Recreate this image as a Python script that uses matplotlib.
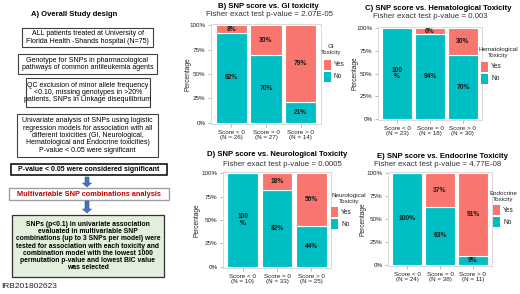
import matplotlib
matplotlib.use("Agg")
import matplotlib.pyplot as plt
from matplotlib.patches import Rectangle, FancyArrow

plt.rcParams['font.family'] = ['Liberation Sans', 'DejaVu Sans']

W, H = 520, 294

# ---------------- data ----------------
categories = ["Score < 0", "Score = 0", "Score > 0"]
gi_n = [26, 27, 14]
gi_no = [92, 70, 21]
gi_yes = [8, 30, 79]
hem_n = [23, 18, 30]
hem_no = [100, 94, 70]
hem_yes = [0, 6, 30]
neu_n = [10, 33, 25]
neu_no = [100, 82, 44]
neu_yes = [0, 18, 56]
endo_n = [24, 38, 11]
endo_no = [100, 63, 9]
endo_yes = [0, 37, 91]
yticks = [0, 25, 50, 75, 100]

TEAL = '#00BFC4'
SALMON = '#F8766D'

fig = plt.figure(figsize=(W / 100, H / 100), dpi=100)


def fx(px):
    return px / W


def fy(py):
    return 1 - py / H


def box(x0, y0, x1, y1, text, fs=5.0, weight='normal', color='black',
        fc='white', ec='#404040', lw=0.8):
    fig.patches.append(Rectangle((fx(x0), fy(y1)), (x1 - x0) / W, (y1 - y0) / H,
                                 transform=fig.transFigure, fc=fc, ec=ec, lw=lw))
    fig.text(fx((x0 + x1) / 2), fy((y0 + y1) / 2), text, ha='center', va='center',
             fontsize=fs, fontweight=weight, color=color, linespacing=1.05)


def arrow(x, y0, y1):
    fig.patches.append(FancyArrow(fx(x), fy(y0), 0, -(y1 - y0) / H,
                                  width=4 / W, head_width=9 / W, head_length=4 / H,
                                  length_includes_head=True, transform=fig.transFigure,
                                  fc='#4472C4', ec='#2F5597', lw=0.4))


# ---------------- panel A ----------------
fig.text(fx(31), fy(15), "A) Overall Study design", fontsize=5.5, fontweight='bold',
         ha='left', va='center')
box(22, 28, 153, 47, "ALL patients treated at University of\nFlorida Health -Shands hospital (N=75)")
box(18, 54, 157, 74, "Genotype for SNPs in pharmacological\npathways of common antileukemia agents")
box(26, 78, 150, 107, "QC exclusion of minor allele frequency\n<0.10, missing genotypes in >20%\npatients, SNPs in Linkage disequilibrium")
box(17, 114, 158, 157, "Univariate analysis of SNPs using logistic\nregression models for association with all\n"
    "different toxicities (GI, Neurological,\nHematological and Endocrine toxicities)\nP-value < 0.05 were significant")
box(11, 164, 167, 175, "P-value < 0.05 were considered significant", fs=5.0, weight='bold',
    ec='black', lw=1.1)
arrow(87, 177, 187)
box(9, 188, 169, 200, "Multivariable SNP combinations analysis", fs=5.3, weight='bold',
    color='#C00000', ec='#A0A0A0', lw=1.0)
arrow(87, 201, 213)
box(12, 215, 164, 277, "SNPs (p<0.1) in univariate association\nevaluated in multivariable SNP\n"
    "combinations (up to 3 SNPs per model) were\ntested for association with each toxicity and\n"
    "combination model with the lowest 1000\npermutation p-value and lowest BIC value\nwas selected",
    fs=4.9, weight='bold', fc='#E2EFDA', ec='#303030', lw=0.9)
fig.text(fx(1), fy(286), "IRB201802623", fontsize=6.0, ha='left', va='center', color='#222222')


# ---------------- bar panels ----------------
def panel(ax_px, no, yes, ns, labels_no, labels_yes, title, subtitle, tcx, ty, scx,
          ylab_x, leg_title, leg_cx, leg_ty, key_x, key_y):
    x0, y0, x1, y1 = ax_px
    ax = fig.add_axes([fx(x0), fy(y1), (x1 - x0) / W, (y1 - y0) / H])
    pos = list(range(1, len(categories) + 1))
    ax.bar(pos, no, width=0.9, color=TEAL, edgecolor='white', lw=0.8)
    ax.bar(pos, yes, bottom=no, width=0.9, color=SALMON, edgecolor='white', lw=0.8)
    for p, n, y, ln, ly in zip(pos, no, yes, labels_no, labels_yes):
        if n > 0:
            ax.text(p, n / 2, ln, ha='center', va='center', fontsize=4.8,
                    fontweight='bold', color='#1a1a1a', linespacing=1.0)
        if y > 0:
            ax.text(p, n + y / 2, ly, ha='center', va='center', fontsize=4.8,
                    fontweight='bold', color='#1a1a1a')
    ax.set_xlim(0.42, 3.58)
    ax.set_ylim(-1.5, 101.5)
    ax.set_yticks(yticks)
    ax.set_yticklabels([f"{v}%" for v in yticks])
    ax.set_xticks(pos)
    ax.set_xticklabels([f"{c}\n(N = {n})" for c, n in zip(categories, ns)],
                       linespacing=1.2)
    ax.tick_params(labelsize=4.5, length=2, width=0.5, color='#999999', pad=2,
                   labelcolor='#222222')
    for s in ax.spines.values():
        s.set_color('#d4d4d4')
        s.set_linewidth(0.6)
    fig.text(fx(ylab_x), fy((y0 + y1) / 2), "Percentage", rotation=90, ha='center',
             va='center', fontsize=4.8, color='#222222')
    fig.text(fx(tcx), fy(ty), title, ha='center', va='center', fontsize=5.6,
             fontweight='bold')
    fig.text(fx(scx), fy(ty + 9), subtitle, ha='center', va='center', fontsize=5.7,
             color='#333333')
    # legend
    fig.text(fx(leg_cx), fy(leg_ty), leg_title, ha='center', va='top', fontsize=4.5,
             linespacing=1.25, color='#222222')
    for i, (lab, col) in enumerate([("Yes", SALMON), ("No", TEAL)]):
        ky = key_y + i * 12
        fig.patches.append(Rectangle((fx(key_x), fy(ky + 10)), 7 / W, 10 / H,
                                     transform=fig.transFigure, fc=col, ec='none'))
        fig.text(fx(key_x + 10), fy(ky + 5), lab, ha='left', va='center',
                 fontsize=4.8, color='#222222')
    return ax


panel((211, 24, 321, 124), gi_no, gi_yes, gi_n,
      ["92%", "70%", "21%"], ["8%", "30%", "79%"],
      "B) SNP score vs. GI toxicity", "Fisher exact test p-value = 2.07E-05",
      268, 6, 269, 188, "GI\nToxicity", 331, 44, 324, 60)

panel((378, 27, 482, 120), hem_no, hem_yes, hem_n,
      ["100\n%", "94%", "70%"], ["", "6%", "30%"],
      "C) SNP score vs. Hematological Toxicity", "Fisher exact test p-value = 0.003",
      438, 8, 430, 355, "Hematological\nToxicity", 498, 47, 481, 62)

panel((223, 172, 331, 268), neu_no, neu_yes, neu_n,
      ["100\n%", "82%", "44%"], ["", "18%", "56%"],
      "D) SNP score vs. Neurological Toxicity", "Fisher exact test p-value = 0.0005",
      277, 155, 282, 197, "Neurological\nToxicity", 349, 193, 331, 207)

panel((388, 172, 492, 266), endo_no, endo_yes, endo_n,
      ["100%", "63%", "9%"], ["", "37%", "91%"],
      "E) SNP score vs. Endocrine Toxicity", "Fisher exact test p-value = 4.77E-08",
      442, 156, 438, 363, "Endocrine\nToxicity", 503, 191, 493, 205)

fig.savefig("out.png", dpi=100)
